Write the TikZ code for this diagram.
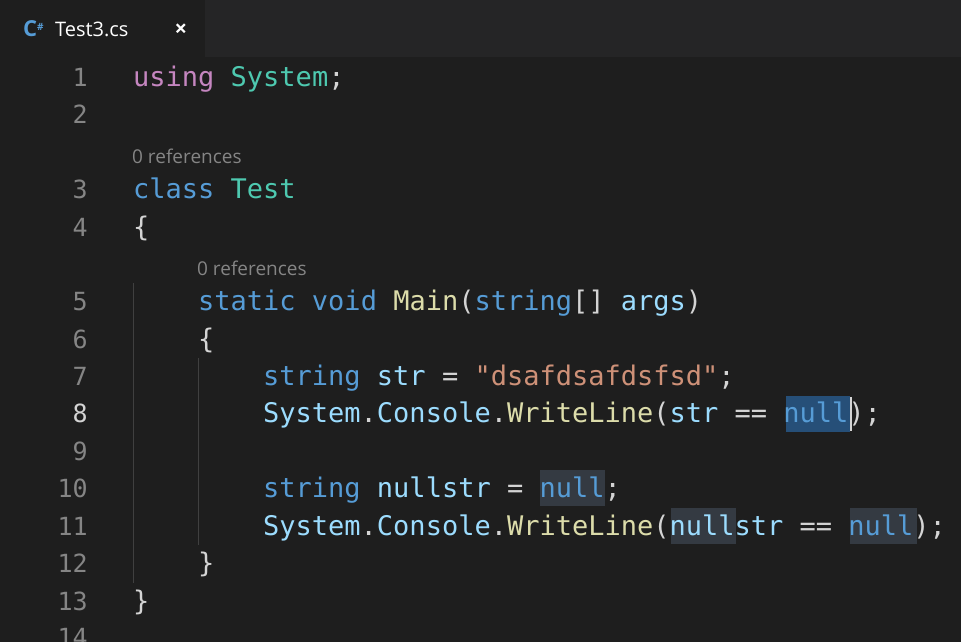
\documentclass[tikz,border=0pt]{standalone}
\usepackage{fontspec}
\setmainfont{Open Sans}
\newfontfamily\codefont{DejaVu Sans Mono}
\definecolor{bg}{HTML}{1E1E1E}
\definecolor{tabbar}{HTML}{252526}
\definecolor{kw}{HTML}{569CD6}
\definecolor{ctl}{HTML}{C586C0}
\definecolor{ty}{HTML}{4EC9B0}
\definecolor{strc}{HTML}{CE9178}
\definecolor{fn}{HTML}{DCDCAA}
\definecolor{var}{HTML}{9CDCFE}
\definecolor{ln}{HTML}{858585}
\definecolor{pl}{HTML}{D4D4D4}
\definecolor{sel}{HTML}{264F78}
\definecolor{occ}{HTML}{343A42}
\definecolor{guide}{HTML}{404040}
\begin{document}
\begin{tikzpicture}[x=1pt,y=-1pt,
  code/.style={anchor=base west,inner sep=0pt,font=\codefont\fontsize{27}{30}\selectfont,text=pl},
  lnum/.style={anchor=base east,inner sep=0pt,font=\codefont\fontsize{25}{30}\selectfont,text=ln},
  refs/.style={anchor=base west,inner sep=0pt,font=\fontsize{19}{22}\selectfont,text=ln}]
\useasboundingbox (0,0) rectangle (961,642);
\clip (0,0) rectangle (961,642);
\fill[bg] (0,0) rectangle (961,642);
\fill[tabbar] (0,0) rectangle (961,57);
\fill[bg] (0,0) rectangle (205,57);
\node[anchor=base west,inner sep=0pt,font=\bfseries\fontsize{22}{22}\selectfont,text=kw] (icon) at (23,37) {C\raisebox{6pt}{\fontsize{10}{10}\selectfont\#}};
\node[anchor=base west,inner sep=0pt,font=\fontsize{20}{22}\selectfont,text=white] (tab) at (55,37) {Test3.cs};
\node[anchor=base,inner sep=0pt,font=\bfseries\fontsize{22}{22}\selectfont,text=white] (close) at (181,37) {×};
% highlights
\fill[sel] (786,396) rectangle (850,432);
\fill[occ] (540,470) rectangle (605,506);
\fill[occ] (671,508) rectangle (736,544);
\fill[occ] (850,508) rectangle (917,544);
\draw[pl,line width=1.5pt] (851,397) -- (851,431);
% indent guides
\draw[guide,line width=1pt] (133,283) -- (133,583);
\draw[guide,line width=1pt] (198,358) -- (198,545);
% line numbers
\foreach \n/\y in {1/86,2/123,3/198,4/236,5/310,6/348,7/385,9/460,10/497,11/535,12/572,13/610,14/646}
  \node[lnum] (n\n) at (88,\y) {\n};
\node[lnum,text=pl] (n8) at (88,422) {8};
% references
\node[refs] (r1) at (132,163) {0 references};
\node[refs] (r2) at (197,275) {0 references};
% code
\node[code] (c1) at (133,86) {\textcolor{ctl}{using} \textcolor{ty}{System};};
\node[code] (c3) at (133,198) {\textcolor{kw}{class} \textcolor{ty}{Test}};
\node[code] (c4) at (133,236) {\{};
\node[code] (c5) at (198,310) {\textcolor{kw}{static} \textcolor{kw}{void} \textcolor{fn}{Main}(\textcolor{kw}{string}[] \textcolor{var}{args})};
\node[code] (c6) at (198,348) {\{};
\node[code] (c7) at (263,385) {\textcolor{kw}{string} \textcolor{var}{str} = \textcolor{strc}{"dsafdsafdsfsd"};};
\node[code] (c8) at (263,422) {\textcolor{var}{System}.\textcolor{var}{Console}.\textcolor{fn}{WriteLine}(\textcolor{var}{str} == \textcolor{kw}{null});};
\node[code] (c10) at (263,497) {\textcolor{kw}{string} \textcolor{var}{nullstr} = \textcolor{kw}{null};};
\node[code] (c11) at (263,535) {\textcolor{var}{System}.\textcolor{var}{Console}.\textcolor{fn}{WriteLine}(\textcolor{var}{nullstr} == \textcolor{kw}{null});};
\node[code] (c12) at (198,572) {\}};
\node[code] (c13) at (133,610) {\}};
\end{tikzpicture}
\end{document}
